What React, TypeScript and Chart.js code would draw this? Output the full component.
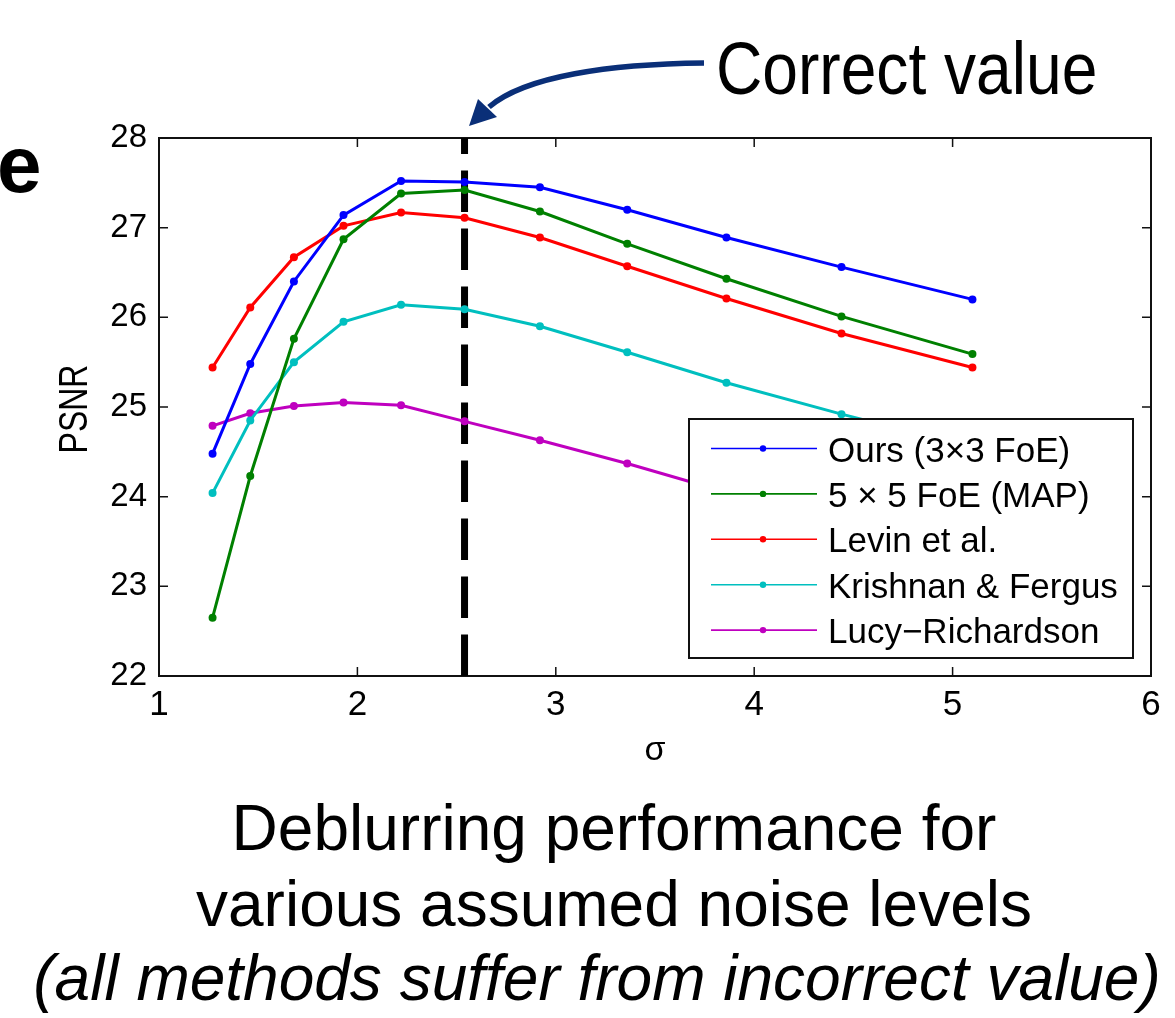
import React, { useEffect, useRef } from 'react';
import { Chart, registerables } from 'chart.js';

Chart.register(...registerables);

// ---------- data ----------
const sigmaValues = [1.27, 1.46, 1.68, 1.93, 2.22, 2.54, 2.92, 3.36, 3.86, 4.44, 5.1];
const oursPSNR = [24.48, 25.48, 26.4, 27.14, 27.52, 27.51, 27.45, 27.2, 26.89, 26.56, 26.2];
const foe5x5PSNR = [22.65, 24.23, 25.76, 26.87, 27.38, 27.42, 27.18, 26.82, 26.43, 26.01, 25.59];
const levinPSNR = [25.44, 26.11, 26.67, 27.02, 27.17, 27.11, 26.89, 26.57, 26.21, 25.82, 25.44];
const krishnanPSNR = [24.04, 24.85, 25.5, 25.95, 26.14, 26.09, 25.9, 25.61, 25.27, 24.92, 24.55];
const lucyPSNR = [24.79, 24.93, 25.01, 25.05, 25.02, 24.84, 24.63, 24.37, 24.05, 23.72, 23.38];
const seriesLabels = ['Ours (3×3 FoE)', '5 × 5 FoE (MAP)', 'Levin et al.', 'Krishnan & Fergus', 'Lucy−Richardson'];
const correctSigma = 2.54;
const xTickValues = [1, 2, 3, 4, 5, 6];
const yTickValues = [22, 23, 24, 25, 26, 27, 28];

const seriesColors = ['#0000ff', '#008000', '#ff0000', '#00bfbf', '#bf00bf'];
const FONT = '"Liberation Sans", Arial, Helvetica, sans-serif';

const decorPlugin = {
  id: 'decor',
  beforeDatasetsDraw(chart: any) {
    const { ctx, chartArea: a, scales } = chart;
    ctx.save();
    ctx.strokeStyle = '#111';
    ctx.lineWidth = 2;
    ctx.strokeRect(a.left, a.top, a.right - a.left, a.bottom - a.top);
    ctx.lineWidth = 1.5;
    const tl = 9;
    ctx.beginPath();
    scales.x.ticks.forEach((t: any) => {
      const px = scales.x.getPixelForValue(t.value);
      ctx.moveTo(px, a.bottom);
      ctx.lineTo(px, a.bottom - tl);
      ctx.moveTo(px, a.top);
      ctx.lineTo(px, a.top + tl);
    });
    scales.y.ticks.forEach((t: any) => {
      const py = scales.y.getPixelForValue(t.value);
      ctx.moveTo(a.left, py);
      ctx.lineTo(a.left + tl, py);
      ctx.moveTo(a.right, py);
      ctx.lineTo(a.right - tl, py);
    });
    ctx.stroke();
    ctx.restore();
  },
  afterDatasetsDraw(chart: any) {
    const { ctx, chartArea: a } = chart;
    // legend box
    const lx = a.left + 530;
    const ly = a.top + 281;
    const lw = 444;
    const lh = 239;
    ctx.save();
    ctx.fillStyle = '#fff';
    ctx.fillRect(lx, ly, lw, lh);
    ctx.strokeStyle = '#111';
    ctx.lineWidth = 2;
    ctx.strokeRect(lx, ly, lw, lh);
    const items = chart.data.datasets.filter((d: any) => d.showInLegend);
    items.forEach((d: any, i: number) => {
      const cy = ly + 29.5 + i * 45.4;
      ctx.strokeStyle = d.borderColor;
      ctx.lineWidth = 1.6;
      ctx.beginPath();
      ctx.moveTo(lx + 22, cy);
      ctx.lineTo(lx + 128, cy);
      ctx.stroke();
      ctx.fillStyle = d.borderColor;
      ctx.beginPath();
      ctx.arc(lx + 74, cy, 3.2, 0, Math.PI * 2);
      ctx.fill();
      ctx.fillStyle = '#000';
      ctx.font = `35px ${FONT}`;
      ctx.textBaseline = 'alphabetic';
      ctx.textAlign = 'left';
      ctx.fillText(d.label, lx + 139, cy + 13);
    });
    ctx.restore();
  },
  afterDraw(chart: any) {
    const { ctx, chartArea: a } = chart;
    ctx.save();
    ctx.fillStyle = '#000';
    // panel letter
    ctx.font = `bold 80px ${FONT}`;
    ctx.textAlign = 'left';
    ctx.textBaseline = 'alphabetic';
    ctx.fillText('e', -3, 192);

    // y axis title
    ctx.save();
    ctx.translate(87, (a.top + a.bottom) / 2 + 2);
    ctx.rotate(-Math.PI / 2);
    ctx.scale(0.8, 1);
    ctx.font = `40px ${FONT}`;
    ctx.textAlign = 'center';
    ctx.fillText('PSNR', 0, 0);
    ctx.restore();

    // x axis title
    ctx.font = `34px ${FONT}`;
    ctx.textAlign = 'center';
    ctx.fillText('σ', (a.left + a.right) / 2, 760);

    // "Correct value"
    ctx.save();
    ctx.translate(716, 94);
    ctx.scale(0.855, 1);
    ctx.font = `75px ${FONT}`;
    ctx.textAlign = 'left';
    ctx.fillText('Correct value', 0, 0);
    ctx.restore();

    // arrow
    ctx.strokeStyle = '#0a2f78';
    ctx.fillStyle = '#0a2f78';
    ctx.lineWidth = 5.5;
    ctx.beginPath();
    ctx.moveTo(704, 63);
    ctx.bezierCurveTo(610, 64, 525, 76, 489, 107);
    ctx.stroke();
    ctx.beginPath();
    ctx.moveTo(469, 126);
    ctx.lineTo(478, 99);
    ctx.lineTo(497, 117);
    ctx.closePath();
    ctx.fill();

    // caption
    ctx.fillStyle = '#000';
    ctx.font = `64px ${FONT}`;
    ctx.textAlign = 'center';
    ctx.fillText('Deblurring performance for', 614, 850);
    ctx.fillText('various assumed noise levels', 614, 926);
    ctx.font = `italic 64px ${FONT}`;
    ctx.fillText('(all methods suffer from incorrect value)', 597, 1000);
    ctx.restore();
  },
};

export default function App() {
  const canvasRef = useRef<HTMLCanvasElement | null>(null);

  useEffect(() => {
    const canvas = canvasRef.current;
    if (!canvas) return;
    const seriesValues = [oursPSNR, foe5x5PSNR, levinPSNR, krishnanPSNR, lucyPSNR];
    const datasets: any[] = seriesValues.map((vals, i) => ({
      label: seriesLabels[i],
      showInLegend: true,
      data: sigmaValues.map((x, j) => ({ x, y: vals[j] })),
      borderColor: seriesColors[i],
      backgroundColor: seriesColors[i],
      pointBackgroundColor: seriesColors[i],
      borderWidth: 3,
      pointRadius: 4,
      pointBorderWidth: 0,
      tension: 0,
    }));
    datasets.push({
      label: 'Correct value',
      showInLegend: false,
      data: [
        { x: correctSigma, y: yTickValues[0] },
        { x: correctSigma, y: yTickValues[yTickValues.length - 1] },
      ],
      borderColor: '#000',
      backgroundColor: '#000',
      borderWidth: 7,
      borderDash: [41.5, 16.5],
      borderCapStyle: 'butt',
      pointRadius: 0,
    });

    const chart = new Chart(canvas, {
      type: 'line',
      data: { datasets },
      options: {
        responsive: false,
        animation: false,
        devicePixelRatio: 1,
        layout: { padding: { left: 0, right: 24, top: 138, bottom: 282 } },
        plugins: {
          legend: { display: false },
          tooltip: { enabled: false },
          title: { display: false },
        },
        scales: {
          x: {
            type: 'linear',
            min: xTickValues[0],
            max: xTickValues[xTickValues.length - 1],
            afterBuildTicks: (s: any) => {
              s.ticks = xTickValues.map((v) => ({ value: v }));
            },
            afterFit: (s: any) => {
              s.height = 60;
            },
            grid: { display: false, drawTicks: false },
            border: { display: false },
            ticks: { padding: 8, color: '#000', font: { size: 35, family: FONT } },
          },
          y: {
            type: 'linear',
            min: yTickValues[0],
            max: yTickValues[yTickValues.length - 1],
            afterBuildTicks: (s: any) => {
              s.ticks = yTickValues.map((v) => ({ value: v }));
            },
            afterFit: (s: any) => {
              s.width = 159;
            },
            grid: { display: false, drawTicks: false },
            border: { display: false },
            ticks: { padding: 12, color: '#000', font: { size: 33, family: FONT } },
          },
        },
      } as any,
      plugins: [decorPlugin],
    });
    return () => chart.destroy();
  }, []);

  return (
    <div style={{ position: 'absolute', left: 0, top: 0, width: 1175, height: 1018, background: '#fff' }}>
      <canvas ref={canvasRef} width={1175} height={1018} style={{ display: 'block' }} />
    </div>
  );
}
